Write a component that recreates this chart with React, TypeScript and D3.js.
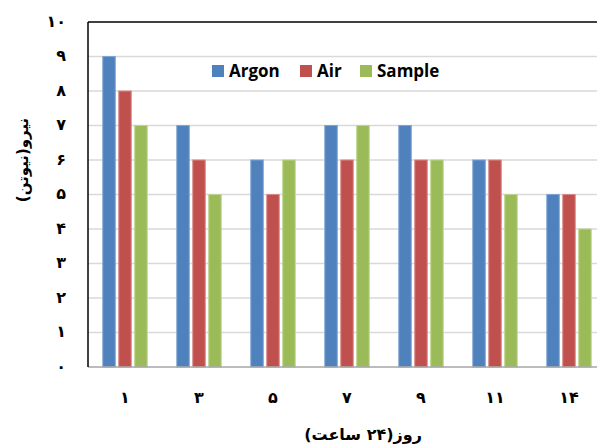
import React, { useEffect, useRef } from 'react';
import * as d3 from 'd3';

const days = ['۱', '۳', '۵', '۷', '۹', '۱۱', '۱۴'];
const seriesNames = ['Argon', 'Air', 'Sample'];
const argon = [9, 7, 6, 7, 7, 6, 5];
const air = [8, 6, 5, 6, 6, 6, 5];
const sample = [7, 5, 6, 7, 6, 5, 4];
const yTicks = ['۰', '۱', '۲', '۳', '۴', '۵', '۶', '۷', '۸', '۹', '۱۰'];
const colors = ['#4F81BD', '#C0504D', '#9BBB59'];
const strokes = ['#7EA3D4', '#D88A88', '#BDD48F'];

export default function App() {
  const svgRef = useRef<SVGSVGElement>(null);

  useEffect(() => {
    if (!svgRef.current) return;
    const svg = d3.select(svgRef.current);
    svg.selectAll('*').remove();

    const width = 597;
    const height = 447;
    const left = 88;
    const right = 606;
    const top = 22;
    const bottom = 367;
    const font = '"DejaVu Sans", sans-serif';

    const y = d3.scaleLinear().domain([0, 10]).range([bottom, top]);
    const x0 = d3.scaleBand<string>().domain(days).range([left, right]).paddingInner(0.4).paddingOuter(0.2);
    const x1 = d3.scaleBand<string>().domain(seriesNames).range([0, x0.bandwidth()]).paddingInner(0.22);

    svg.attr('width', width).attr('height', height);

    // gridlines
    svg.append('g')
      .selectAll('line')
      .data(d3.range(1, 10))
      .join('line')
      .attr('x1', left)
      .attr('x2', width)
      .attr('y1', d => y(d))
      .attr('y2', d => y(d))
      .attr('stroke', '#D9D9D9')
      .attr('stroke-width', 1.5);

    // bars
    const values = [argon, air, sample];
    const g = svg.append('g');
    days.forEach((day, i) => {
      seriesNames.forEach((s, j) => {
        const v = values[j][i];
        g.append('rect')
          .attr('x', (x0(day) ?? 0) + (x1(s) ?? 0))
          .attr('y', y(v))
          .attr('width', x1.bandwidth())
          .attr('height', bottom - y(v))
          .attr('fill', colors[j])
          .attr('stroke', strokes[j])
          .attr('stroke-width', 1);
      });
    });

    // axes lines
    svg.append('line')
      .attr('x1', left).attr('x2', width)
      .attr('y1', bottom).attr('y2', bottom)
      .attr('stroke', '#A6A6A6').attr('stroke-width', 1.5);
    svg.append('line')
      .attr('x1', left).attr('x2', width)
      .attr('y1', top).attr('y2', top)
      .attr('stroke', '#000').attr('stroke-width', 1.5);
    svg.append('line')
      .attr('x1', left).attr('x2', left)
      .attr('y1', top).attr('y2', bottom)
      .attr('stroke', '#000').attr('stroke-width', 1.5);

    // y tick labels
    svg.append('g')
      .selectAll('text')
      .data(yTicks)
      .join('text')
      .attr('x', 66)
      .attr('y', (_, i) => y(i))
      .attr('text-anchor', 'end')
      .attr('dominant-baseline', 'middle')
      .attr('font-family', font)
      .attr('font-weight', 'bold')
      .attr('font-size', 16)
      .text(d => d);

    // x tick labels
    svg.append('g')
      .selectAll('text')
      .data(days)
      .join('text')
      .attr('x', d => (x0(d) ?? 0) + x0.bandwidth() / 2)
      .attr('y', 398)
      .attr('text-anchor', 'middle')
      .attr('dominant-baseline', 'middle')
      .attr('font-family', font)
      .attr('font-weight', 'bold')
      .attr('font-size', 16)
      .text(d => d);

    // axis titles
    svg.append('text')
      .attr('x', 363)
      .attr('y', 435)
      .attr('text-anchor', 'middle')
      .attr('dominant-baseline', 'middle')
      .attr('font-family', font)
      .attr('font-weight', 'bold')
      .attr('font-size', 16)
      .attr('direction', 'rtl')
      .text('روز(۲۴ ساعت)');

    svg.append('text')
      .attr('transform', 'translate(23,160) rotate(-90)')
      .attr('text-anchor', 'middle')
      .attr('dominant-baseline', 'middle')
      .attr('font-family', font)
      .attr('font-weight', 'bold')
      .attr('font-size', 15)
      .attr('direction', 'rtl')
      .text('نیرو(نیوتن)');

    // legend
    const legend = svg.append('g');
    legend.append('rect')
      .attr('x', 205).attr('y', 60).attr('width', 245).attr('height', 24)
      .attr('fill', '#fff');
    const legendX = [212, 300, 360];
    seriesNames.forEach((s, j) => {
      legend.append('rect')
        .attr('x', legendX[j]).attr('y', 65).attr('width', 12).attr('height', 12)
        .attr('fill', colors[j]);
      legend.append('text')
        .attr('x', legendX[j] + 17)
        .attr('y', 72)
        .attr('dominant-baseline', 'middle')
        .attr('font-family', '"Open Sans", sans-serif')
        .attr('font-weight', 'bold')
        .attr('font-size', 17)
        .text(s);
    });
  }, []);

  return (
    <div style={{ position: 'absolute', left: 0, top: 0 }}>
      <svg ref={svgRef} style={{ display: 'block' }}></svg>
    </div>
  );
}
